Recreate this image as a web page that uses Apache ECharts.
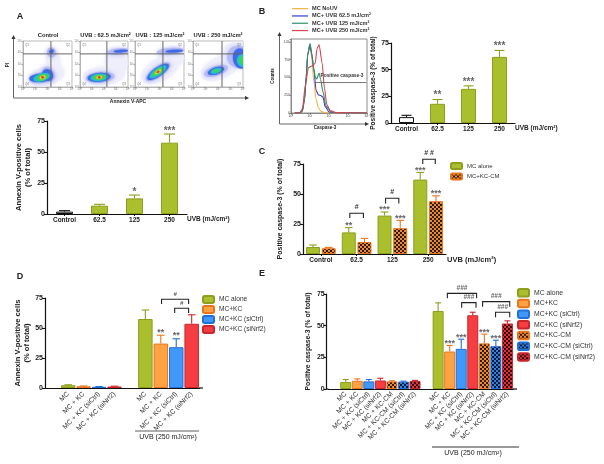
<!DOCTYPE html>
<html><head><meta charset="utf-8">
<style>html,body{margin:0;padding:0;background:#fff}#c{width:604px;height:464px}</style>
<script src="https://cdn.jsdelivr.net/npm/echarts@6/dist/echarts.min.js"></script>
</head><body><div id="c"></div>
<script>
// ---------- Data ----------
const doseCats = ['Control','62.5','125','250'];
const aValues = [1.9,6.7,12.6,57.5];
const aHighs  = [2.7,7.8,15.3,64.5];
const aStars  = ['','','*','***'];
const bValues = [5.5,18,32,62];
const bHighs  = [7.2,22,34.8,68];
const bStars  = ['','**','***','***'];
const cAlone  = [5.8,18,32,62];
const cAloneHigh = [7.5,22,35,68];
const cAloneStars = ['','**','***','***'];
const cCM     = [4.8,10,21.5,44];
const cCMHigh = [5.5,13,28,48.5];
const cCMStars = ['','','***','***'];

const dCats = ['','MC','MC + KC','MC + KC (siCtrl)','MC + KC (siNrf2)','','MC','MC + KC','MC + KC (siCtrl)','MC + KC (siNrf2)'];
const dAlone = [null,2.3,null,null,null,null,57.5,null,null,null];
const dKC    = [null,null,1.4,null,null,null,null,37,null,null];
const dCtrl  = [null,null,null,1,null,null,null,null,34,null];
const dNrf2  = [null,null,null,null,1.2,null,null,null,null,53.5];
const dHighs = [null,2.7,1.7,1.2,1.5,null,65,44,41,61];
const dStars = ['','','','','','','','**','**',''];

const eCats = ['','MC','MC + KC','MC + KC (siCtrl)','MC + KC (siNrf2)','MC + KC-CM','MC + KC-CM (siCtrl)','MC + KC-CM (siNrf2)','',
               'MC','MC + KC','MC + KC (siCtrl)','MC + KC (siNrf2)','MC + KC-CM','MC + KC-CM (siCtrl)','MC + KC-CM (siNrf2)'];
const eAlone = [null,5.5,null,null,null,null,null,null,null,61.6,null,null,null,null,null,null];
const eKC    = [null,null,6.5,null,null,null,null,null,null,null,29.6,null,null,null,null,null];
const eCtrl  = [null,null,null,6,null,null,null,null,null,null,null,31.7,null,null,null,null];
const eNrf2  = [null,null,null,null,6.7,null,null,null,null,null,null,null,58.2,null,null,null];
const eCM    = [null,null,null,null,null,6,null,null,null,null,null,null,null,36,null,null];
const eCMCtrl= [null,null,null,null,null,null,5.8,null,null,null,null,null,null,null,33.8,null];
const eCMNrf2= [null,null,null,null,null,null,null,6.3,null,null,null,null,null,null,null,51.7];
const eHighs = [null,7.5,8,7.5,8.5,6.5,6.2,6.8,null,68,34.4,39.3,60.6,43.3,38.5,53.8];
const eStars = ['','','','','','','','','','','***','***','','***','***',''];

// brackets: [x from, x to, y top, y foot, label]  (x in category slots)
const cBrackets = [[0.81,1.19,33.9,30,'#'],[1.81,2.18,46.5,42,'#'],[2.85,3.2,79,75,'# #']];
const dBrackets = [[7.05,8.8,74,70,'#'],[7.9,8.8,66.4,62.5,'#']];
const eBrackets = [[9.8,12.33,75.5,71.6,'###'],[11.04,12.28,68.2,64.2,'###'],[12.85,15.2,69,65,'###'],[13.97,15.2,60.6,56.6,'###']];

// flow histogram curves: [log position %, counts]
const histNoUV = [[5,0],[12,5],[15,30],[18,200],[20,500],[22,800],[24.5,950],[27,800],[30,450],[33,200],[36,70],[40,20],[46,0],[100,0]];
const hist625  = [[5,0],[12,5],[15,30],[18,210],[20,510],[22,820],[25,960],[27,850],[30,620],[33,320],[36,255],[39,245],[42,225],[45,90],[50,15],[60,3],[100,0]];
const hist125  = [[5,0],[12,5],[15,30],[18,210],[20,520],[22,830],[25,975],[27.5,820],[30,620],[32,500],[34,480],[37,560],[39,470],[42,300],[46,100],[52,20],[60,3],[100,0]];
const hist250  = [[5,0],[12,8],[15,60],[19,400],[23,640],[27.5,660],[32,700],[34,900],[37,960],[41,700],[44,350],[47,120],[52,30],[60,5],[100,0]];
const histGate = [[31,428],[99,428]];

// flow dot plots: density regions [cx, cy, rx, ry, angle, level]
const dotControl = [[48,24,38,22,15,0],[62,55,15,32,10,0],[38,20,26,12,8,1],[52,28,12,17,30,1],[58,75,9,11,20,1],
  [36,20,23,9,5,2],[50,26,11,13,35,2],[58,77,5,4,30,2],[38,21,17,8,15,3],[39,21,12,6.5,20,4],[40,21,6,3.8,20,5],[40,21,3,2.4,0,6]];
const dot625 = [[50,25,44,21,5,0],[75,55,24,30,20,0],[42,21,30,12,5,1],[80,77,24,7,5,1],
  [40,21,24,9.5,5,2],[85,78,15,2.8,4,2],[40,21,18,7.5,5,3],[40,21,13,5.8,5,4],[40,21,6,3.5,5,5],[40,21,3,2.4,0,6]];
const dot125 = [[52,38,44,25,30,0],[75,65,28,22,10,0],[47,33,30,12,35,1],[72,78,28,7,5,1],
  [47,33,26,9.5,35,2],[80,78,18,3,3,2],[47,33,20,7.5,35,3],[47,33,14,5.2,35,4],[47,33,7,3,35,5],[47,33,3.5,1.8,35,6]];
const dot250 = [[55,42,42,24,25,0],[85,72,32,26,20,0],[46,35,25,11,18,1],[90,66,22,24,30,1],
  [46,35,17,7.5,18,2],[95,62,15,22,10,2],[46,35,11,5,18,3],[100,58,12,14,0,3],[46,35,6,3,18,4],[100,58,8,9,0,4]];
const dotLevels = ['#eeeefb','#b4b9f3','#3f68e6','#1fc3d6','#3fd35c','#e6e22e','#e5392a'];
// quadrant gate [x, y]
const dotGates = [[57,72],[56,72],[57,72],[58,72]];
const dotTitles = ['Control','UVB : 62.5 mJ/cm²','UVB : 125 mJ/cm²','UVB : 250 mJ/cm²'];
const logLabels = ['10⁰','10¹','10²','10³','10⁴'];
const histTicks = {0:'0',250:'250',500:'500',750:'750',1000:'1.0k'};

// ---------- Styling ----------
const FONT = '"Liberation Sans", Arial, sans-serif';
const INK = '#222';
const GREEN='#aabf2e', GREEN_D='#8e9e1c', ORANGE='#ffa244', ORANGE_D='#ea741c', BLUE='#4098fb', BLUE_D='#2070d8', RED='#f63d42', RED_D='#c8262a';
function check(base, dark){
  const c=document.createElement('canvas'); c.width=c.height=4;
  const g=c.getContext('2d'); g.fillStyle=base; g.fillRect(0,0,4,4);
  g.fillStyle=dark; g.fillRect(0,0,2,2); g.fillRect(2,2,2,2);
  return {image:c,repeat:'repeat'};
}
const H_ORANGE=check('#f08a30','#2a1a10'), H_BLUE=check('#2f80e8','#10182a'), H_RED=check('#e23036','#2a1012');

// ---------- Coordinate systems ----------
const grids=[], xAxes=[], yAxes=[], series=[], gfx=[];
function addGrid(r){grids.push({left:r[0],top:r[1],width:r[2],height:r[3],containLabel:false});return grids.length-1;}
function countY(idx,opt,nameSize){
  yAxes.push(Object.assign({gridIndex:idx,type:'value',min:0,max:75,interval:25,splitLine:{show:false},
    axisLine:{show:true,lineStyle:{color:'#111',width:1.2}},axisTick:{show:true,length:3,lineStyle:{color:'#111',width:1.1}},
    axisLabel:{fontFamily:FONT,fontWeight:'bold',fontSize:7,color:INK,margin:2,showMinLabel:true,showMaxLabel:true},
    nameLocation:'middle',nameRotate:90,nameTextStyle:{fontFamily:FONT,fontWeight:'bold',fontSize:nameSize,color:INK,lineHeight:9}},opt));
}
function catX(idx,cats,opt){
  xAxes.push(Object.assign({gridIndex:idx,type:'category',data:cats,splitLine:{show:false},
    axisLine:{show:true,onZero:false,lineStyle:{color:'#111',width:1.2}},axisTick:{show:true,length:2,alignWithLabel:true,lineStyle:{color:'#111'}},
    axisLabel:{interval:0,fontFamily:FONT,fontWeight:'bold',fontSize:6.5,color:INK,margin:3}},opt));
}
function xAt(api,x){const i=Math.round(x);return api.coord([i,0])[0]+(x-i)*api.size([1,0])[0];}
function whiskers(idx,values,highs,colors,stars,frac,capW,starGap,fs){
  const rows=[];values.forEach((v,i)=>{if(v!=null)rows.push([i,v,highs[i]]);});
  series.push({type:'custom',xAxisIndex:idx,yAxisIndex:idx,z:5,data:rows,encode:{x:0,y:2},silent:true,
    renderItem(p,api){
      const i=api.value(0), x=api.coord([i,0])[0]+frac*api.size([1,0])[0];
      const y0=api.coord([i,api.value(1)])[1], y1=api.coord([i,api.value(2)])[1];
      const col=Array.isArray(colors)?colors[i]:colors;
      const kids=[
        {type:'line',shape:{x1:x,y1:y0,x2:x,y2:y1},style:{stroke:col,lineWidth:1.1}},
        {type:'line',shape:{x1:x-capW,y1:y1,x2:x+capW,y2:y1},style:{stroke:col,lineWidth:1.1}}];
      if(stars[i]) kids.push({type:'text',style:{text:stars[i],x:x,y:y1-starGap,align:'center',verticalAlign:'middle',
        fill:'#666',font:'bold '+fs+'px '+FONT}});
      return {type:'group',children:kids};
    }});
}
function brackets(idx,list,labelGap,labelColor,fs,italic){
  series.push({type:'custom',xAxisIndex:idx,yAxisIndex:idx,z:6,silent:true,data:list.map(b=>[b[0],b[2]]),encode:{x:0,y:1},
    renderItem(p,api){
      const b=list[p.dataIndex];
      const xa=xAt(api,b[0]), xb=xAt(api,b[1]);
      const yt=api.coord([0,b[2]])[1], yf=api.coord([0,b[3]])[1];
      return {type:'group',children:[
        {type:'polyline',shape:{points:[[xa,yf],[xa,yt],[xb,yt],[xb,yf]]},style:{stroke:'#222',fill:null,lineWidth:1.1}},
        {type:'text',style:{text:b[4],x:(xa+xb)/2,y:yt-labelGap,align:'center',verticalAlign:'middle',fill:labelColor,
          font:(italic?'italic ':'')+'bold '+fs+'px '+FONT}}]};
    }});
}
function bar(idx,name,data,fill,border,width,opt){
  series.push(Object.assign({type:'bar',name:name,xAxisIndex:idx,yAxisIndex:idx,data:data,barWidth:width,
    itemStyle:{color:fill,borderColor:border,borderWidth:1},silent:true},opt));
}
function whiteFirst(values,fill,border){
  return values.map((v,i)=>i===0?{value:v,itemStyle:{color:'#fff',borderColor:'#111',borderWidth:1}}:{value:v,itemStyle:{color:fill,borderColor:border,borderWidth:1}});
}

// ---------- A: dot plots ----------
const dotRects=[[23,41,49,46],[80,41,48,46],[135,41,49,46],[193,41,50,46]];
[dotControl,dot625,dot125,dot250].forEach((blobs,k)=>{
  const g=addGrid(dotRects[k]); grids[g].show=true; grids[g].borderColor='#aaa'; grids[g].borderWidth=0.8;
  const ax={gridIndex:g,type:'value',min:0,max:100,interval:25,splitLine:{show:false},
    axisLine:{show:true,lineStyle:{color:'#aaa',width:0.8}},axisTick:{show:true,length:1.5,lineStyle:{color:'#888',width:0.7}},
    axisLabel:{fontFamily:FONT,fontSize:3,color:'#777',margin:1,formatter:v=>logLabels[v/25]}};
  xAxes.push(Object.assign({},ax)); yAxes.push(Object.assign({},ax));
  series.push({type:'custom',xAxisIndex:g,yAxisIndex:g,clip:true,silent:true,data:blobs,encode:{x:0,y:1},
    renderItem(p,api){
      const c=api.coord([api.value(0),api.value(1)]), s=api.size([1,1]);
      const rx=api.value(2)*s[0], ry=api.value(3)*s[1], a=api.value(4)*Math.PI/180, lv=api.value(5);
      const pts=[];for(let j=0;j<32;j++){const t=j/32*2*Math.PI;
        pts.push([c[0]+rx*Math.cos(t)*Math.cos(a)-ry*Math.sin(t)*Math.sin(a),c[1]-(rx*Math.cos(t)*Math.sin(a)+ry*Math.sin(t)*Math.cos(a))]);}
      return {type:'polygon',shape:{points:pts},style:{fill:dotLevels[lv],opacity:lv===0?0.8:0.92,shadowBlur:lv<2?4:1.5,shadowColor:dotLevels[lv]}};
    }});
  const gate=dotGates[k];
  series.push({type:'custom',xAxisIndex:g,yAxisIndex:g,silent:true,z:4,data:[gate],encode:{x:0,y:1},
    renderItem(p,api){
      const c=api.coord([api.value(0),api.value(1)]);
      const tl=api.coord([0,100]), br=api.coord([100,0]);
      const q=(t,x,y,al)=>({type:'text',style:{text:t,x:x,y:y,align:al,verticalAlign:'middle',fill:'#777',font:'3px '+FONT}});
      return {type:'group',children:[
        {type:'line',shape:{x1:c[0],y1:tl[1],x2:c[0],y2:br[1]},style:{stroke:'#666',lineWidth:1}},
        {type:'line',shape:{x1:tl[0],y1:c[1],x2:br[0],y2:c[1]},style:{stroke:'#666',lineWidth:1}},
        q('Q1',tl[0]+2,tl[1]+4,'left'),q('Q2',br[0]-2,tl[1]+4,'right'),q('Q4',tl[0]+2,br[1]-3,'left'),q('Q3',br[0]-2,br[1]-3,'right')]};
    }});
});

// ---------- A: bars ----------
let g=addGrid([47,121,140,93]);
catX(g,doseCats); countY(g,{name:'Annexin V-positive cells\n(% of total)',nameGap:15},7.6);
bar(g,undefined,whiteFirst(aValues,GREEN,GREEN_D),GREEN,GREEN_D,17);
whiskers(g,aValues,aHighs,['#111',GREEN_D,GREEN_D,GREEN_D],aStars,0,5.5,2.5,10);

// ---------- B: histogram ----------
g=addGrid([291,39,76,74]); grids[g].show=true; grids[g].borderColor='#8a8a8a'; grids[g].borderWidth=1;
xAxes.push({gridIndex:g,type:'value',min:0,max:100,interval:25,splitLine:{show:false},
  axisLine:{show:true,lineStyle:{color:'#888'}},axisTick:{show:true,length:1.5,lineStyle:{color:'#666',width:0.7}},
  axisLabel:{fontFamily:FONT,fontSize:3.5,color:'#444',margin:1,formatter:v=>logLabels[v/25]}});
yAxes.push({gridIndex:g,type:'value',min:0,max:1040,interval:250,splitLine:{show:false},
  axisLine:{show:true,lineStyle:{color:'#888'}},axisTick:{show:true,length:1.5,lineStyle:{color:'#666',width:0.7}},
  axisLabel:{fontFamily:FONT,fontSize:3.5,color:'#444',margin:1,formatter:v=>histTicks[v]}});
[['MC NoUV',histNoUV,'#f2b544'],['MC+ UVB 62.5 mJ/cm²',hist625,'#3a3ad2'],['MC+ UVB 125 mJ/cm²',hist125,'#2e9268'],['MC+ UVB 250 mJ/cm²',hist250,'#d9434f']].forEach(r=>{
  series.push({type:'line',name:r[0],xAxisIndex:g,yAxisIndex:g,data:r[1],symbol:'none',smooth:0.25,smoothMonotone:'x',silent:true,
    lineStyle:{color:r[2],width:1.1},itemStyle:{color:r[2]}});
});
series.push({type:'line',xAxisIndex:g,yAxisIndex:g,symbol:'none',silent:true,lineStyle:{color:'#555',width:0.8},data:histGate});

// ---------- B: bars ----------
g=addGrid([391,43,124,80]);
catX(g,doseCats); countY(g,{name:'Positive caspase-3 (% of total)',nameGap:9},6.5);
bar(g,undefined,whiteFirst(bValues,GREEN,GREEN_D),GREEN,GREEN_D,15);
whiskers(g,bValues,bHighs,['#111',GREEN_D,GREEN_D,GREEN_D],bStars,0,5,4,10);

// ---------- C ----------
g=addGrid([303,164,143,90]);
catX(g,doseCats); countY(g,{name:'Positive caspase-3 (% of total)',nameGap:18},7);
bar(g,'MC alone',cAlone,GREEN,GREEN_D,14,{barGap:'12%'});
bar(g,'MC+KC-CM',cCM,H_ORANGE,ORANGE_D,14);
whiskers(g,cAlone,cAloneHigh,GREEN_D,cAloneStars,-0.22,3.8,2,9);
whiskers(g,cCM,cCMHigh,ORANGE_D,cCMStars,0.22,3.8,2,9);
brackets(g,cBrackets,6,'#333',7,false);

// ---------- D ----------
g=addGrid([45,298,154.4,90]);
catX(g,dCats,{axisTick:{show:false},axisLabel:{interval:0,rotate:45,fontFamily:FONT,fontSize:6.8,color:'#333',margin:5}});
countY(g,{name:'Annexin V-positive cells\n(% of total)',nameGap:12},7.6);
const dW=14.5;
bar(g,'MC alone',dAlone,GREEN,GREEN_D,dW,{stack:'d'});
bar(g,'MC+KC',dKC,ORANGE,ORANGE_D,dW,{stack:'d'});
bar(g,'MC+KC (siCtrl)',dCtrl,BLUE,BLUE_D,dW,{stack:'d'});
bar(g,'MC+KC (siNrf2)',dNrf2,RED,RED_D,dW,{stack:'d'});
const dCol=[null,GREEN_D,ORANGE_D,BLUE_D,RED_D,null,GREEN_D,ORANGE_D,BLUE_D,RED_D];
whiskers(g,dHighs.map((h,i)=>h==null?null:(dAlone[i]??dKC[i]??dCtrl[i]??dNrf2[i])),dHighs,dCol,dStars,0,3.8,3,9);
brackets(g,dBrackets,5,'#555',6,true);

// ---------- E ----------
g=addGrid([328.4,294,184.8,95]);
catX(g,eCats,{axisTick:{show:false},axisLabel:{interval:0,rotate:45,fontFamily:FONT,fontSize:6.8,color:'#333',margin:4}});
countY(g,{offset:1.7,name:'Positive caspase-3 (% of total)',nameGap:12},6.8);
const eW=11;
bar(g,'MC alone',eAlone,GREEN,GREEN_D,eW,{stack:'e'});
bar(g,'MC+KC',eKC,ORANGE,ORANGE_D,eW,{stack:'e'});
bar(g,'MC+KC (siCtrl)',eCtrl,BLUE,BLUE_D,eW,{stack:'e'});
bar(g,'MC+KC (siNrf2)',eNrf2,RED,RED_D,eW,{stack:'e'});
bar(g,'MC+KC-CM',eCM,H_ORANGE,ORANGE_D,eW,{stack:'e'});
bar(g,'MC+KC-CM (siCtrl)',eCMCtrl,H_BLUE,BLUE_D,eW,{stack:'e'});
bar(g,'MC+KC-CM (siNrf2)',eCMNrf2,H_RED,RED_D,eW,{stack:'e'});
const eCol=[null,GREEN_D,ORANGE_D,BLUE_D,RED_D,ORANGE_D,BLUE_D,RED_D,null,GREEN_D,ORANGE_D,BLUE_D,RED_D,ORANGE_D,BLUE_D,RED_D];
const eBase=eHighs.map((h,i)=>h==null?null:[eAlone,eKC,eCtrl,eNrf2,eCM,eCMCtrl,eCMNrf2].map(a=>a[i]).find(v=>v!=null));
whiskers(g,eBase,eHighs,eCol,eStars,0,3,1.5,9);
brackets(g,eBrackets,5,'#666',6.5,true);

// ---------- Text & frames ----------
function T(text,x,y,o){o=o||{};gfx.push({type:'text',x:x,y:y,rotation:o.rot||0,silent:true,style:{text:text,align:o.align||'center',verticalAlign:'middle',
  fill:o.fill||INK,font:(o.italic?'italic ':'')+(o.weight||'bold')+' '+(o.size||7)+'px '+FONT}});}
function L(x1,y1,x2,y2,col,w){gfx.push({type:'line',silent:true,shape:{x1,y1,x2,y2},style:{stroke:col||'#111',lineWidth:w||1}});}
function tri(pts,col){gfx.push({type:'polygon',silent:true,shape:{points:pts},style:{fill:col}});}

T('A',20,17,{size:9}); T('B',262,12,{size:9}); T('C',262,152,{size:9}); T('D',20,277,{size:9}); T('E',262,274,{size:9});
const titleX=[48,105.5,160,218];
dotTitles.forEach((t,i)=>T(t,titleX[i],35,{size:5.8}));
L(13.5,38,13.5,98,'#666',1); L(13.5,98,246,98,'#666',1); tri([[13.5,35],[11.5,39],[15.5,39]],'#333'); tri([[249,98],[245,96],[245,100]],'#333');
T('PI',8,65,{size:4.5,rot:Math.PI/2}); T('Annexin V-APC',128,102,{size:5});
T('UVB (mJ/cm²)',187,219.5,{align:'left',size:6.5});

L(279.5,35,279.5,124,'#666',1); L(279.5,124,366,124,'#666',1); tri([[279.5,32],[277.5,36],[281.5,36]],'#333'); tri([[369,124],[365,122],[365,126]],'#333');
T('Counts',273,76,{size:4.5,rot:Math.PI/2}); T('Caspase-3',325,128,{size:4.5});
T('Positive caspase-3',342,75.5,{size:4.8,fill:'#333'});
T('UVB (mJ/cm²)',515,128.5,{align:'left',size:6.5});

T('UVB (mJ/cm²)',447,259.5,{align:'left',size:7.5});

L(199,388,203,388,'#111',1.2);
L(135,431,199,431,'#333',0.8); T('UVB (250 mJ/cm²)',168,437.5,{size:7,weight:'normal'});
L(326.7,389,328.4,389,'#111',1.2); L(513,389,517,389,'#111',1.2);
L(432,447,519,447,'#777',1.6); T('UVB (250 mJ/cm²)',473,453.5,{size:7,weight:'normal'});

const legendText={fontFamily:FONT,color:'#333'};
const option={
  animation:false,backgroundColor:'#fff',
  grid:grids,xAxis:xAxes,yAxis:yAxes,series:series,graphic:{elements:gfx},
  legend:[
    {data:['MC NoUV','MC+ UVB 62.5 mJ/cm²','MC+ UVB 125 mJ/cm²','MC+ UVB 250 mJ/cm²'],orient:'vertical',left:292,top:5,padding:0,itemGap:0,itemWidth:16,itemHeight:1.2,icon:'rect',
      selectedMode:false,textStyle:Object.assign({},legendText,{fontSize:5.6,fontWeight:'bold',padding:[0,0,0,-1],lineHeight:7.3})},
    {data:['MC alone','MC+KC-CM'],orient:'vertical',left:450,top:162,padding:0,itemGap:2.5,itemWidth:11,itemHeight:6,selectedMode:false,
      textStyle:Object.assign({},legendText,{fontSize:6,lineHeight:7})},
    {data:['MC alone','MC+KC','MC+KC (siCtrl)','MC+KC (siNrf2)'],orient:'vertical',left:202,top:295,padding:0,itemGap:1,itemWidth:11,itemHeight:7,selectedMode:false,
      textStyle:Object.assign({},legendText,{fontSize:6.6,lineHeight:8})},
    {data:['MC alone','MC+KC','MC+KC (siCtrl)','MC+KC (siNrf2)','MC+KC-CM','MC+KC-CM (siCtrl)','MC+KC-CM (siNrf2)'],orient:'vertical',left:517,top:288,padding:0,itemGap:1.2,itemWidth:11,itemHeight:7.5,selectedMode:false,
      textStyle:Object.assign({},legendText,{fontSize:6.8,lineHeight:8})}
  ]
};
const chart=echarts.init(document.getElementById('c'),null,{renderer:'canvas'});
chart.setOption(option);
</script></body></html>
